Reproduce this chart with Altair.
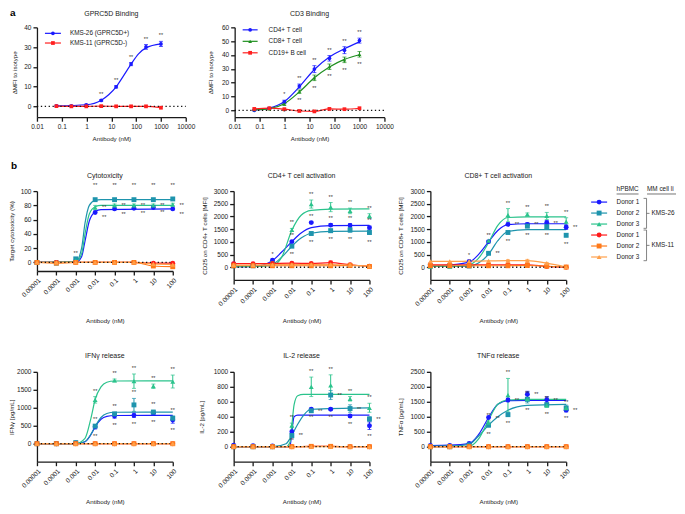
import altair as alt
import pandas as pd

FONT = "Liberation Sans"
INK = "#1a1a1a"

# ---------------- panel a : binding ----------------
A_X = [0.061, 0.244, 0.977, 3.91, 15.6, 62.5, 250, 1000]
A_XTICKS = [0.01, 0.1, 1, 10, 100, 1000, 10000]

A1_TITLE = "GPRC5D Binding"
A1_NAMES = ["KMS-26 (GPRC5D+)", "KMS-11 (GPRC5D-)"]
A1_COLORS = ["#1a1aff", "#ff1f1f"]
A1_SHAPES = ["circle", "square"]
A1_KMS26 = [0.2, 0.2, 0.8, 3.0, 9.9, 21.4, 30.1, 31.6]
A1_KMS26_ERR = [0.3, 0.3, 0.3, 0.4, 0.6, 0.8, 1.2, 1.3]
A1_KMS11 = [0.1, 0.0, 0.0, 0.1, 0.0, 0.0, 0.0, -0.7]
A1_KMS11_ERR = [0, 0, 0, 0, 0, 0, 0, 0]
A1_FIT_X = [0.061, 0.977, 3.91, 8.0, 15.6, 30.0, 62.5, 125, 250, 1000]
A1_KMS26_FIT = [0.2, 0.8, 3.1, 6.0, 9.9, 15.2, 21.4, 26.6, 29.6, 31.6]
A1_YTICKS = [0, 10, 20, 30, 40]
A1_STARS = [("KMS-26 (GPRC5D+)", [3, 4, 5, 6, 7], "above", "**")]

A2_TITLE = "CD3 Binding"
A2_NAMES = ["CD4+ T cell", "CD8+ T cell", "CD19+ B cell"]
A2_COLORS = ["#1a1aff", "#1f8f1f", "#ff1f1f"]
A2_SHAPES = ["circle", "triangle-up", "square"]
A2_CD4 = [0.0, 1.4, 6.1, 17.5, 29.8, 37.6, 43.5, 50.4]
A2_CD4_ERR = [0.3, 0.5, 1.2, 1.5, 2.5, 2.0, 2.5, 1.8]
A2_CD8 = [0.5, 1.0, 4.5, 13.5, 23.5, 31.5, 36.5, 40.5]
A2_CD8_ERR = [0.3, 0.4, 0.8, 1.2, 2.0, 2.0, 2.0, 2.0]
A2_CD19 = [1.0, 1.5, 0.8, -0.5, -0.8, 1.0, 0.8, 1.5]
A2_CD19_ERR = [0, 0, 0, 0, 0, 0, 0, 0]
A2_CD4_FIT = [0.2, 1.6, 6.3, 17.0, 29.5, 38.5, 44.5, 49.5]
A2_CD8_FIT = [0.3, 1.2, 4.8, 13.3, 23.5, 31.3, 36.8, 40.2]
A2_YTICKS = [0, 10, 20, 30, 40, 50, 60]
A2_STARS = [("CD4+ T cell", [2], "above", "*"), ("CD4+ T cell", [3, 4, 5, 6, 7], "above", "**"),
            ("CD8+ T cell", [2], "below", "*"), ("CD8+ T cell", [3, 4, 5, 6, 7], "below", "**")]

# ---------------- panels b / c : functional assays ----------------
BC_X = [0.00001, 0.0001, 0.001, 0.01, 0.1, 1, 10, 100]
BC_NAMES = ["KMS-26 Donor 1", "KMS-26 Donor 2", "KMS-26 Donor 3",
            "KMS-11 Donor 1", "KMS-11 Donor 2", "KMS-11 Donor 3"]
BC_COLORS = ["#1a1aff", "#1e94ad", "#2bc38c", "#ff1a1a", "#ff7a1a", "#ffa04a"]
BC_SHAPES = ["circle", "square", "triangle-up", "circle", "square", "triangle-up"]
LEGEND_LABELS = ["Donor 1", "Donor 2", "Donor 3", "Donor 1", "Donor 2", "Donor 3"]
LEGEND_GROUPS = ["KMS-26", "KMS-11"]
LEGEND_HEADERS = ["hPBMC", "MM cell line"]
Z8 = [0, 0, 0, 0, 0, 0, 0, 0]

# Cytotoxicity (%)
CYT = [[0, 0, 2, 70, 75, 76, 77, 75],
       [0, -1, 5, 88, 88, 88, 88, 89],
       [0, 0, 3, 77, 80, 80, 80, 81],
       [0, 0, 0, 0, 0, 0, -1, -1],
       [0, -1, 0, 0, 0, 0, -5, -6],
       [0, 0, 0, 0, 0, 0, -2, -3]]
CYT_ERR = [Z8, Z8, [0, 0, 0, 3, 2, 2, 2, 2], Z8, Z8, Z8]
CYT_FIT_X = [0.00001, 0.001, 0.002, 0.003, 0.005, 0.01, 0.02, 100]
CYT_FIT = [[0, 0, 8, 30, 58, 71, 74, 75],
           [0, 1, 20, 55, 80, 87, 88, 88],
           [0, 1, 12, 40, 68, 78, 80, 80],
           None, None, None]
CYT_STARS = [("KMS-26 Donor 2", [2], "above", "**"), ("KMS-26 Donor 2", [3, 4, 5, 6, 7], "top", "**"),
             ("KMS-26 Donor 3", [3, 4, 5, 6, 7], "right", "**"),
             ("KMS-26 Donor 1", [3, 4, 5, 6, 7], "rightlow", "**")]

# CD25 on CD4+ T cells [MFI]
CD4A = [[130, 90, 280, 1010, 1760, 1660, 1650, 1560],
        [60, 60, 150, 830, 1330, 1440, 1470, 1370],
        [60, 60, 130, 1470, 2490, 2370, 2220, 2020],
        [140, 140, 150, 160, 150, 180, 100, 40],
        [60, 60, 60, 60, 60, 60, 70, 30],
        [90, 90, 100, 110, 110, 110, 90, 40]]
CD4A_ERR = [[0, 0, 0, 40, 40, 60, 70, 60],
            [0, 0, 0, 50, 60, 70, 90, 80],
            [0, 0, 0, 60, 160, 180, 110, 90],
            [0, 0, 0, 0, 0, 60, 0, 0], Z8, Z8]
CD4A_FIT_X = [0.00001, 0.0001, 0.001, 0.003, 0.01, 0.03, 0.1, 1, 100]
CD4A_FIT = [[20, 30, 260, 600, 1010, 1350, 1560, 1640, 1650],
            [20, 25, 120, 400, 830, 1150, 1340, 1410, 1420],
            [30, 30, 70, 400, 1460, 2050, 2240, 2290, 2300],
            None, None, None]
CD4A_STARS = [("KMS-26 Donor 1", [2], "above", "*"),
              ("KMS-26 Donor 3", [3, 4, 5, 6, 7], "above", "**"),
              ("KMS-26 Donor 1", [3, 4, 5, 6, 7], "above", "**"),
              ("KMS-26 Donor 2", [3, 4, 5, 6, 7], "below", "**")]

# CD25 on CD8+ T cells [MFI]
CD8A = [[100, 100, 230, 1010, 1690, 1690, 1760, 1580],
        [50, 50, 50, 550, 1370, 1620, 1600, 1260],
        [30, 30, 80, 1050, 2050, 2080, 2020, 1800],
        [100, 100, 100, 100, 100, 100, 30, 0],
        [60, 60, 60, 60, 60, 70, 40, 10],
        [230, 230, 240, 250, 260, 260, 160, 10]]
CD8A_ERR = [[0, 0, 0, 40, 50, 60, 80, 90],
            [0, 0, 0, 40, 50, 60, 70, 60],
            [0, 0, 0, 0, 260, 60, 140, 150],
            Z8, Z8, [0, 0, 0, 0, 40, 50, 30, 0]]
CD8A_FIT_X = [0.00001, 0.0001, 0.001, 0.003, 0.01, 0.03, 0.1, 1, 100]
CD8A_FIT = [[60, 90, 200, 500, 1000, 1450, 1680, 1715, 1715],
            [30, 30, 40, 170, 510, 1050, 1410, 1480, 1485],
            [40, 40, 100, 350, 970, 1650, 1960, 1985, 1985],
            None, None, None]
CD8A_STARS = [("KMS-26 Donor 1", [2], "above", "*"),
              ("KMS-26 Donor 3", [4, 5, 6, 7], "above", "**"),
              ("KMS-26 Donor 1", [3], "above", "**"),
              ("KMS-26 Donor 1", [4, 5, 6, 7], "right", "**"),
              ("KMS-26 Donor 2", [3], "right", "**"),
              ("KMS-26 Donor 2", [4, 5, 6, 7], "below", "**")]

# IFNg [pg/mL]
IFN = [[0, 0, 20, 470, 770, 790, 850, 660],
       [0, 0, 30, 490, 830, 1080, 880, 710],
       [0, 0, 10, 1220, 1760, 1740, 1600, 1730],
       [0, 0, 0, 0, 0, 0, 0, 0],
       [0, 0, 0, 0, 0, 0, 0, 0],
       [0, 0, 0, 0, 0, 0, 0, 0]]
IFN_ERR = [[0, 0, 0, 60, 60, 60, 50, 90],
           [0, 0, 0, 40, 40, 180, 50, 60],
           [0, 0, 0, 90, 40, 200, 60, 180],
           Z8, Z8, Z8]
IFN_FIT_X = [0.00001, 0.001, 0.003, 0.006, 0.01, 0.02, 0.04, 0.1, 100]
IFN_FIT = [[0, 2, 55, 250, 470, 680, 760, 785, 790],
           [0, 2, 60, 260, 480, 730, 840, 875, 880],
           [0, 5, 150, 700, 1230, 1580, 1710, 1745, 1750],
           None, None, None]
IFN_STARS = [("KMS-26 Donor 3", [3, 4, 5, 6, 7], "above", "**"),
             ("KMS-26 Donor 2", [3, 4, 5, 6, 7], "above", "**"),
             ("KMS-26 Donor 1", [3, 4, 5, 6, 7], "below", "**")]

# IL-2 [pg/mL]
IL2 = [[20, 15, 10, 200, 500, 500, 410, 280],
       [0, 0, 0, 150, 480, 690, 510, 370],
       [0, 0, 0, 285, 800, 820, 640, 520],
       [0, 0, 0, 0, 5, 5, 0, 0],
       [0, 0, 0, 0, 5, 5, 0, 0],
       [0, 0, 0, 0, 0, 0, 0, 0]]
IL2_ERR = [[0, 0, 0, 20, 15, 15, 20, 50],
           [0, 0, 0, 20, 20, 60, 50, 30],
           [0, 0, 0, 30, 130, 140, 30, 60],
           Z8, Z8, Z8]
IL2_FIT_X = [0.00001, 0.001, 0.005, 0.008, 0.01, 0.013, 0.02, 0.04, 0.1, 100]
IL2_FIT = [[0, 0, 0, 5, 200, 400, 421, 421, 421, 421],
           [0, 0, 40, 110, 154, 210, 300, 420, 500, 518],
           [0, 0, 0, 60, 285, 560, 680, 698, 698, 698],
           None, None, None]
IL2_STARS = [("KMS-26 Donor 3", [3, 4, 5, 6, 7], "above", "**"),
             ("KMS-26 Donor 2", [3, 4, 5, 6, 7], "right", "**"),
             ("KMS-26 Donor 1", [3, 4, 5, 6, 7], "below", "**")]

# TNFa [pg/mL]
TNF = [[40, 40, 110, 975, 1560, 1750, 1570, 1220],
       [0, 0, 60, 720, 1070, 1580, 1400, 1290],
       [0, 0, 20, 800, 1720, 1600, 1380, 1300],
       [0, 0, 0, 0, 0, 0, 0, 0],
       [0, 0, 0, 0, 0, 0, 0, 0],
       [0, 0, 0, 0, 0, 0, 0, 0]]
TNF_ERR = [[0, 0, 0, 0, 60, 100, 100, 60],
           [0, 0, 0, 60, 60, 120, 60, 100],
           [0, 0, 0, 60, 560, 0, 60, 0],
           Z8, Z8, Z8]
TNF_FIT_X = [0.00001, 0.0001, 0.001, 0.003, 0.01, 0.03, 0.1, 1, 100]
TNF_FIT = [[40, 50, 110, 400, 975, 1420, 1540, 1545, 1545],
           [20, 25, 80, 350, 720, 1000, 1220, 1380, 1415],
           [0, 0, 15, 250, 890, 1420, 1560, 1580, 1580],
           None, None, None]
TNF_STARS = [("KMS-26 Donor 3", [3, 4, 5, 6, 7], "above", "**"),
             ("KMS-26 Donor 1", [3, 4, 5, 6, 7], "right", "**"),
             ("KMS-26 Donor 2", [3, 4, 5, 6, 7], "below", "**")]

STAR_OFFSETS = {"above": (0, -6), "below": (0, 7), "right": (9, 0),
                "rightlow": (9, 5), "top": (0, -6)}

LABEL_FS = 6.5
AXTITLE_FS = 6.2
PTITLE_FS = 7.0
LEG_FS = 6.4


def legend_entry(label, color, shape, size, x0, x1, y, tx, fs=LEG_FS):
    base = alt.Chart(pd.DataFrame({"label": [label]}))
    line = base.mark_rule(color=color, strokeWidth=1.2).encode(
        x=alt.value(x0), x2=alt.value(x1), y=alt.value(y))
    pt = base.mark_point(filled=True, opacity=1, color=color, shape=shape, size=size).encode(
        x=alt.value((x0 + x1) / 2), y=alt.value(y))
    txt = base.mark_text(align="left", baseline="middle", font=FONT, fontSize=fs, color=INK).encode(
        x=alt.value(tx), y=alt.value(y), text="label:N")
    return [line, pt, txt]


def frame(x, y0, y1):
    # invisible extent marker: fixes the bounding box of a row
    return alt.Chart(pd.DataFrame({"f": [0]})).mark_rule(
        color="#ffffff", opacity=0, strokeWidth=0.1).encode(
        x=alt.value(x), y=alt.value(y0), y2=alt.value(y1))


def panel(title, ytitle, names, colors, shapes, xvals, vals, errs, fit_x, fits,
          xdom, xticks, xfmt, ydom, yticks, w, h, msize, stars, rotate,
          ytp, xtp, xext, ty, extra=()):
    cs = alt.Scale(domain=names, range=colors)
    ss = alt.Scale(domain=names, range=shapes)
    xs = alt.Scale(type="log", domain=xdom, nice=False)
    ys = alt.Scale(domain=ydom, nice=False, zero=False)
    rows = []
    for n, v, e in zip(names, vals, errs):
        for xi, yi, ei in zip(xvals, v, e):
            rows.append(dict(x=xi, y=yi, err=ei, lo=yi - ei, hi=yi + ei, s=n))
    pts = pd.DataFrame(rows)
    frows = []
    for n, v, f in zip(names, vals, fits):
        if f is None:
            frows += [dict(x=xi, y=yi, s=n) for xi, yi in zip(xvals, v)]
        else:
            frows += [dict(x=xi, y=yi, s=n) for xi, yi in zip(fit_x, f)]
    fit = pd.DataFrame(frows)

    xaxis = alt.Axis(values=xticks, format=xfmt, title="Antibody (nM)",
                     labelAngle=-45 if rotate else 0,
                     labelAlign="right" if rotate else "center",
                     labelBaseline="top", minExtent=xext, maxExtent=xext, titlePadding=xtp)
    yaxis = alt.Axis(values=yticks, format="d", title=ytitle, minExtent=18, maxExtent=18,
                     titlePadding=ytp)
    X = alt.X("x:Q", scale=xs, axis=xaxis)

    def Y(f):
        return alt.Y(f"{f}:Q", scale=ys, axis=yaxis)

    col = alt.Color("s:N", scale=cs, legend=None)
    shp = alt.Shape("s:N", scale=ss, legend=None)

    layers = []
    layers.append(alt.Chart(fit).mark_line(interpolate="monotone", strokeWidth=1.2).encode(
        x=X, y=Y("y"), color=col, detail="s:N"))
    layers.append(alt.Chart(pd.DataFrame({"y": [0]})).mark_rule(
        color="#111", strokeWidth=1.3, strokeDash=[1.3, 2.6]).encode(
        y=Y("y"), x=alt.value(0), x2=alt.value(w)))
    eb = pts[pts.err > 0]
    if len(eb):
        layers.append(alt.Chart(eb).mark_rule(strokeWidth=1).encode(
            x=X, y=Y("lo"), y2="hi:Q", color=col))
        caps = pd.concat([eb.assign(c=eb.lo), eb.assign(c=eb.hi)])
        layers.append(alt.Chart(caps).mark_tick(orient="horizontal", size=4, thickness=1).encode(
            x=X, y=Y("c"), color=col))
    layers.append(alt.Chart(pts).mark_point(filled=True, opacity=1, size=msize).encode(
        x=X, y=Y("y"), color=col, shape=shp))
    for sname, idxs, place, txt in stars:
        k = names.index(sname)
        srows = []
        for i in idxs:
            v = vals[k][i]
            e = errs[k][i]
            if place == "above":
                yv = v + e
            elif place == "below":
                yv = v - e
            elif place == "top":
                yv = ydom[1]
            else:
                yv = v
            srows.append(dict(x=xvals[i], y=yv, t=txt))
        dx, dy = STAR_OFFSETS[place]
        layers.append(alt.Chart(pd.DataFrame(srows)).mark_text(
            dx=dx, dy=dy, fontSize=5.5, font=FONT, color="#333", baseline="middle").encode(
            x=X, y=Y("y"), text="t:N"))
    # panel title as a text mark centred over the plot area
    layers.append(alt.Chart(pd.DataFrame({"t": [title]})).mark_text(
        font=FONT, fontSize=PTITLE_FS, color=INK, baseline="middle", align="center").encode(
        x=alt.value(w / 2), y=alt.value(ty), text="t:N"))
    layers.extend(extra)
    return alt.layer(*layers).properties(width=w, height=h)


def letter(ch, x, y):
    return alt.Chart(pd.DataFrame({"t": [ch]})).mark_text(
        font=FONT, fontSize=10, fontWeight="bold", color="#000", baseline="middle", align="left").encode(
        x=alt.value(x), y=alt.value(y), text="t:N")


WA, HA = 149, 90
WB, HB, HB1 = 136, 89, 80
LEFT = -28.5

# ---- row a ----
a1_leg = []
for i, n in enumerate(A1_NAMES):
    a1_leg += legend_entry(n, A1_COLORS[i], A1_SHAPES[i], 14, 8, 24, 6 + 9.7 * i, 33)
a1 = panel(A1_TITLE, "ΔMFI to isotype", A1_NAMES, A1_COLORS, A1_SHAPES, A_X,
           [A1_KMS26, A1_KMS11], [A1_KMS26_ERR, A1_KMS11_ERR], A1_FIT_X, [A1_KMS26_FIT, None],
           [0.01, 10000], A_XTICKS, ".2~f", [-5.5, 40], A1_YTICKS, WA, HA, 14, A1_STARS, False,
           1.5, 5.5, 13, -13.5,
           extra=a1_leg + [letter("a", -27, -14), frame(LEFT, -19, 130.8)])
a2_leg = []
for i, n in enumerate(A2_NAMES):
    a2_leg += legend_entry(n, A2_COLORS[i], A2_SHAPES[i], 14, 8, 23, 2.5 + 11.5 * i, 34)
a2 = panel(A2_TITLE, "ΔMFI to isotype", A2_NAMES, A2_COLORS, A2_SHAPES, A_X,
           [A2_CD4, A2_CD8, A2_CD19], [A2_CD4_ERR, A2_CD8_ERR, A2_CD19_ERR], A_X,
           [A2_CD4_FIT, A2_CD8_FIT, None],
           [0.01, 10000], A_XTICKS, ".2~f", [-5, 60], A2_YTICKS, WA + 1, HA, 14, A2_STARS, False,
           3, 5.5, 13, -13.5, extra=a2_leg)

# ---- row b ----
b1 = panel("Cytotoxicity", "Target cytotoxicity (%)", BC_NAMES, BC_COLORS, BC_SHAPES, BC_X,
           CYT, CYT_ERR, CYT_FIT_X, CYT_FIT, [0.00001, 100], BC_X, ".5~f", [-12, 100],
           [0, 20, 40, 60, 80, 100], WB, HB1, 24, CYT_STARS, True, 4.5, 19, 28, -15,
           extra=[letter("b", -26, -25), frame(LEFT, -33, 158.5)])
b2 = panel("CD4+ T cell activation", "CD25 on CD4+ T cells [MFI]", BC_NAMES, BC_COLORS, BC_SHAPES,
           BC_X, CD4A, CD4A_ERR, CD4A_FIT_X, CD4A_FIT, [0.00001, 100], BC_X, ".5~f", [-500, 3000],
           [0, 500, 1000, 1500, 2000, 2500, 3000], WB, HB, 24, CD4A_STARS, True, 8.5, 10, 28, -15)
b3 = panel("CD8+ T cell activation", "CD25 on CD8+ T cells [MFI]", BC_NAMES, BC_COLORS, BC_SHAPES,
           BC_X, CD8A, CD8A_ERR, CD8A_FIT_X, CD8A_FIT, [0.00001, 100], BC_X, ".5~f", [-500, 3000],
           [0, 500, 1000, 1500, 2000, 2500, 3000], WB, HB, 24, CD8A_STARS, True, 9, 10, 28, -15)

# side legend for rows b / c (coordinates relative to the legend panel)
leg_layers = []
for i, lab in enumerate(LEGEND_LABELS):
    leg_layers += legend_entry(lab, BC_COLORS[i], BC_SHAPES[i], 24, -36, -20, 11 * (i + 1), -10.5)
hdr = pd.DataFrame({"t": LEGEND_HEADERS})
leg_layers.append(alt.Chart(hdr.iloc[[0]]).mark_text(
    align="left", baseline="middle", font=FONT, fontSize=LEG_FS, color=INK).encode(
    x=alt.value(-10.5), y=alt.value(-2), text="t:N"))
leg_layers.append(alt.Chart(hdr.iloc[[1]]).mark_text(
    align="left", baseline="middle", font=FONT, fontSize=LEG_FS, color=INK, limit=31, ellipsis=" ").encode(
    x=alt.value(20), y=alt.value(-2), text="t:N"))
for xa, xb in [(-10.5, 11.5), (20, 49)]:
    leg_layers.append(alt.Chart(hdr.iloc[[0]]).mark_rule(color=INK, strokeWidth=0.6).encode(
        x=alt.value(xa), x2=alt.value(xb), y=alt.value(2.9)))
grp = pd.DataFrame({"t": LEGEND_GROUPS})
for gi, (ytop, ybot) in enumerate([(7.3, 37.3), (39.0, 69.7)]):
    g = alt.Chart(grp.iloc[[gi]])
    ymid = (ytop + ybot) / 2
    leg_layers.append(g.mark_rule(color="#666", strokeWidth=0.8).encode(
        x=alt.value(19.5), y=alt.value(ytop), y2=alt.value(ybot)))
    leg_layers.append(g.mark_rule(color="#666", strokeWidth=0.8).encode(
        x=alt.value(16.5), x2=alt.value(19.5), y=alt.value(ytop)))
    leg_layers.append(g.mark_rule(color="#666", strokeWidth=0.8).encode(
        x=alt.value(16.5), x2=alt.value(19.5), y=alt.value(ybot)))
    leg_layers.append(g.mark_rule(color="#666", strokeWidth=0.8).encode(
        x=alt.value(19.5), x2=alt.value(22.5), y=alt.value(ymid)))
    leg_layers.append(g.mark_text(align="left", baseline="middle", font=FONT, fontSize=LEG_FS,
                                  color=INK).encode(x=alt.value(24.5), y=alt.value(ymid), text="t:N"))
legend_b = alt.layer(*leg_layers).properties(width=49, height=HB)

# ---- row c ----
c1 = panel("IFNγ release", "IFNγ [pg/mL]", BC_NAMES, BC_COLORS, BC_SHAPES, BC_X,
           IFN, IFN_ERR, IFN_FIT_X, IFN_FIT, [0.00001, 100], BC_X, ".5~f", [-500, 2000],
           [0, 500, 1000, 1500, 2000], WB, HA, 24, IFN_STARS, True, 4.5, 9, 28, -16,
           extra=[frame(LEFT, -22, 134)])
c2 = panel("IL-2 release", "IL-2 [pg/mL]", BC_NAMES, BC_COLORS, BC_SHAPES, BC_X,
           IL2, IL2_ERR, IL2_FIT_X, IL2_FIT, [0.00001, 100], BC_X, ".5~f", [-200, 1000],
           [0, 200, 400, 600, 800, 1000], WB, HA, 24, IL2_STARS, True, 11, 9, 28, -16)
c3 = panel("TNFα release", "TNFα [pg/mL]", BC_NAMES, BC_COLORS, BC_SHAPES, BC_X,
           TNF, TNF_ERR, TNF_FIT_X, TNF_FIT, [0.00001, 100], BC_X, ".5~f", [-500, 2500],
           [0, 500, 1000, 1500, 2000, 2500], WB, HA, 24, TNF_STARS, True, 9, 9, 28, -16)

row_a = alt.hconcat(a1, a2, spacing=49, bounds="flush").resolve_scale(color="independent", shape="independent")
row_b = alt.hconcat(b1, b2, b3, legend_b, spacing=61, bounds="flush").resolve_scale(color="independent", shape="independent")
row_c = alt.hconcat(c1, c2, c3, spacing=61, bounds="flush").resolve_scale(color="independent", shape="independent")

chart = alt.vconcat(row_a, row_b, row_c, spacing=0).resolve_scale(
    color="independent", shape="independent").properties(padding=0).configure_view(
    stroke=None).configure_axis(
    domainColor=INK, domainWidth=1.3, tickColor=INK, tickWidth=1.3, tickSize=4,
    labelFont=FONT, titleFont=FONT, labelFontSize=LABEL_FS, titleFontSize=AXTITLE_FS,
    titleFontWeight="normal", labelColor=INK, titleColor=INK, grid=False,
    labelPadding=2, labelFlush=False, labelOverlap=False)

chart.save("out.html", embed_options={"renderer": "svg", "actions": False})
